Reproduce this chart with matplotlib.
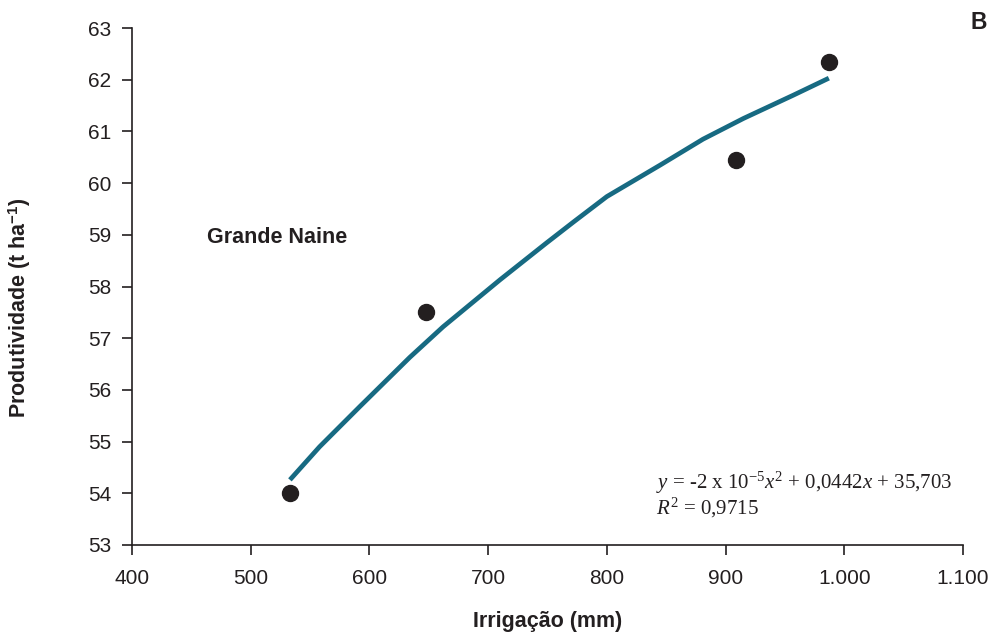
# Produtividade x irrigação - Grande Naine (painel B)
import matplotlib
matplotlib.use('Agg')
import matplotlib.pyplot as plt
from matplotlib.ticker import FixedLocator, FixedFormatter

# dados observados
irrig_obs = [533, 648, 909, 987]
prod_obs = [54.0, 57.5, 60.45, 62.34]

# curva ajustada
irrig_curva = [533, 558, 592, 634, 662, 710, 749, 772, 800, 845, 881, 915, 957, 987]
prod_curva = [54.26, 54.90, 55.68, 56.63, 57.22, 58.13, 58.84, 59.25, 59.74, 60.35,
              60.85, 61.25, 61.70, 62.03]

xticks = [400, 500, 600, 700, 800, 900, 1000, 1100]
xtick_labels = ['400', '500', '600', '700', '800', '900', '1.000', '1.100']
yticks = [53, 54, 55, 56, 57, 58, 59, 60, 61, 62, 63]

plt.rcParams['font.family'] = ['Liberation Sans', 'DejaVu Sans']
plt.rcParams['mathtext.fontset'] = 'custom'
plt.rcParams['mathtext.rm'] = 'Liberation Serif'
plt.rcParams['mathtext.it'] = 'Liberation Serif:italic'
plt.rcParams['mathtext.bf'] = 'Liberation Sans:bold'

fig = plt.figure(figsize=(9.89, 6.34), dpi=100)
ax = fig.add_axes([0.1335, 0.1404, 0.8402, 0.8154])

ax.plot(irrig_curva, prod_curva, color='#176a82', lw=3.4, solid_capstyle='butt',
        solid_joinstyle='round', zorder=2)
ax.plot(irrig_obs, prod_obs, 'o', color='#231f20', ms=11.5, zorder=3)

ax.set_xlim(400, 1100)
ax.set_ylim(53, 63)
ax.xaxis.set_major_locator(FixedLocator(xticks))
ax.xaxis.set_major_formatter(FixedFormatter(xtick_labels))
ax.set_yticks(yticks)

for s in ['top', 'right']:
    ax.spines[s].set_visible(False)
for s in ['left', 'bottom']:
    ax.spines[s].set_color('#231f20')
    ax.spines[s].set_linewidth(1.2)
ax.tick_params(direction='out', length=7, width=1.2, colors='#231f20', labelsize=15)
ax.tick_params(axis='x', pad=10)
ax.tick_params(axis='y', pad=8)

fig.text(0.554, 0.019, 'Irrigação (mm)', ha='center', va='center', fontsize=15.5,
         fontweight='bold', color='#231f20')
fig.text(0.02, 0.514, r'Produtividade (t ha$^{\mathbf{-1}}$)', ha='center', va='center',
         rotation=90, fontsize=15.5, fontweight='bold', color='#231f20')

ax.text(463, 58.94, 'Grande Naine', fontsize=15.5, fontweight='bold', color='#231f20',
        va='center')
fig.text(0.998, 0.965, 'B', ha='right', va='center', fontsize=16.5, fontweight='bold',
         color='#231f20')

ax.text(841, 54.2, r'$y$ = -2 x 10$^{-5}$$x^2$ + 0,0442$x$ + 35,703',
        family='Liberation Serif', fontsize=15, color='#231f20', va='center')
ax.text(841, 53.72, r'$R^2$ = 0,9715', family='Liberation Serif', fontsize=15,
        color='#231f20', va='center')

fig.savefig('out.png', dpi=100)
